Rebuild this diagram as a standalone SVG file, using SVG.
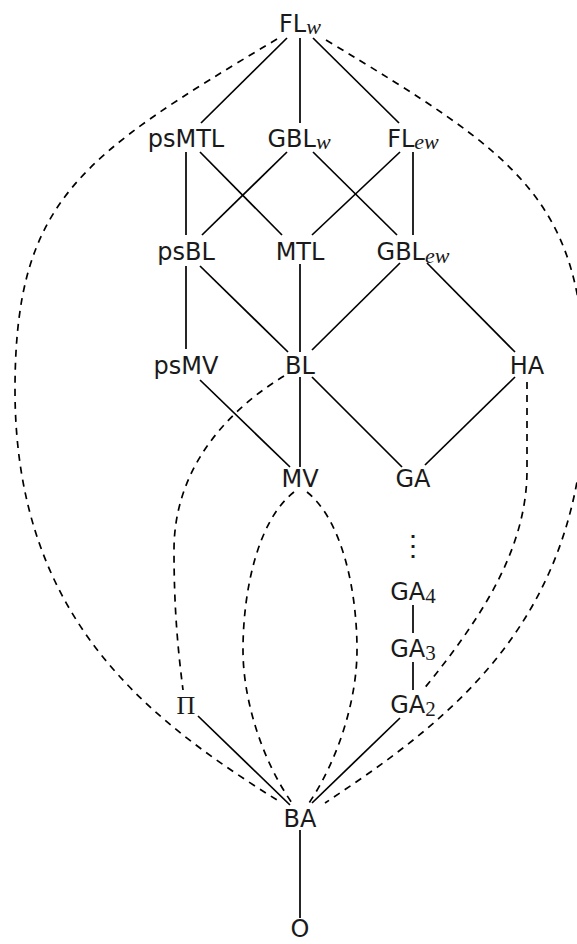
<svg xmlns="http://www.w3.org/2000/svg" width="577" height="944" viewBox="0 0 577 944">
<style>
.lbl{font-family:"DejaVu Sans","Liberation Sans",sans-serif;font-size:24px;fill:#1a1a1a;text-anchor:middle}
.sub{font-family:"Liberation Serif","DejaVu Serif",serif;font-style:italic;font-size:22px}
.num{font-family:"Liberation Serif","DejaVu Serif",serif;font-size:21px}
.pi{font-family:"Liberation Serif","DejaVu Serif",serif;font-size:26px;fill:#1a1a1a;text-anchor:middle}
.e{stroke:#000;stroke-width:1.7;fill:none}
.d{stroke:#000;stroke-width:1.7;fill:none;stroke-dasharray:7 6}
</style>
<rect width="577" height="944" fill="#fff"/>
<g id="connectors">
<line class="e" x1="287" y1="38" x2="201" y2="123"/>
<line class="e" x1="300" y1="38" x2="300" y2="123"/>
<line class="e" x1="313" y1="38" x2="399" y2="123"/>
<line class="e" x1="186" y1="152" x2="186" y2="235"/>
<line class="e" x1="200" y1="152" x2="282" y2="235"/>
<line class="e" x1="287" y1="152" x2="202" y2="235"/>
<line class="e" x1="313" y1="152" x2="397" y2="235"/>
<line class="e" x1="400" y1="152" x2="312" y2="235"/>
<line class="e" x1="413" y1="152" x2="413" y2="235"/>
<line class="e" x1="186" y1="266" x2="186" y2="349"/>
<line class="e" x1="200" y1="266" x2="288" y2="352"/>
<line class="e" x1="300" y1="264" x2="300" y2="352"/>
<line class="e" x1="400" y1="263" x2="312" y2="350"/>
<line class="e" x1="427" y1="263" x2="515" y2="352"/>
<line class="e" x1="200" y1="380" x2="290" y2="467"/>
<line class="e" x1="300" y1="377" x2="300" y2="467"/>
<line class="e" x1="312" y1="377" x2="402" y2="467"/>
<line class="e" x1="515" y1="377" x2="425" y2="465"/>
<line class="e" x1="413" y1="605" x2="413" y2="633"/>
<line class="e" x1="413" y1="662" x2="413" y2="690"/>
<line class="e" x1="198" y1="716" x2="290" y2="805"/>
<line class="e" x1="400" y1="718" x2="312" y2="803"/>
<line class="e" x1="300" y1="830" x2="300" y2="918"/>
<path class="d" d="M277,39 C80,157 15,200 15,390 C15,620 150,720 277,800"/>
<path class="d" d="M326,40 C520,157 585,200 585,390 C585,620 450,720 325,803"/>
<path class="d" d="M284,376 C225,412 174,470 174,550 C174,610 178,650 183,690"/>
<path class="d" d="M294,492 C258,520 243,590 243,650 C243,700 262,760 292,803"/>
<path class="d" d="M307,492 C342,520 357,590 357,650 C357,700 338,760 309,803"/>
<path class="d" d="M527,382 L527,470 C527,550 480,620 423,690"/>
</g>
<g id="FLw"><text class="lbl" x="300" y="32">FL<tspan class="sub" dy="2">w</tspan></text></g>
<g id="psMTL"><text class="lbl" x="186" y="146.5">psMTL</text></g>
<g id="GBLw"><text class="lbl" x="299" y="146.5">GBL<tspan class="sub" dy="2">w</tspan></text></g>
<g id="FLew"><text class="lbl" x="413" y="146.5">FL<tspan class="sub" dy="2">ew</tspan></text></g>
<g id="psBL"><text class="lbl" x="186" y="260">psBL</text></g>
<g id="MTL"><text class="lbl" x="300" y="260">MTL</text></g>
<g id="GBLew"><text class="lbl" x="413" y="260">GBL<tspan class="sub" dy="3">ew</tspan></text></g>
<g id="psMV"><text class="lbl" x="186" y="373.5">psMV</text></g>
<g id="BL"><text class="lbl" x="300" y="373.5">BL</text></g>
<g id="HA"><text class="lbl" x="527" y="374">HA</text></g>
<g id="MV"><text class="lbl" x="300" y="487">MV</text></g>
<g id="GA"><text class="lbl" x="413" y="487">GA</text></g>
<g id="vdots"><text class="lbl" x="413" y="555" style="font-family:'Liberation Serif','DejaVu Serif',serif;font-size:28px">⋮</text></g>
<g id="GA4"><text class="lbl" x="413" y="600">GA<tspan class="num" dy="3">4</tspan></text></g>
<g id="GA3"><text class="lbl" x="413" y="656.5">GA<tspan class="num" dy="3">3</tspan></text></g>
<g id="GA2"><text class="lbl" x="413" y="713">GA<tspan class="num" dy="3">2</tspan></text></g>
<g id="Pi"><text class="pi" x="186" y="714">Π</text></g>
<g id="BA"><text class="lbl" x="300" y="827">BA</text></g>
<g id="O"><text class="lbl" x="300" y="937">O</text></g>
</svg>
